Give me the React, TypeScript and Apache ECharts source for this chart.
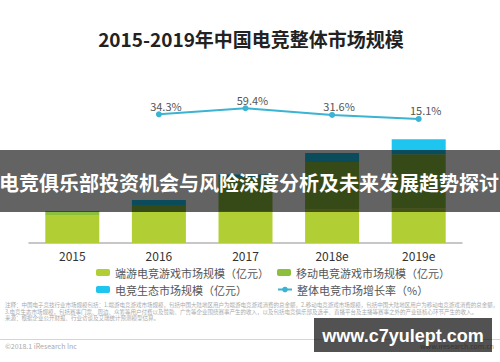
import React, { useEffect, useRef } from "react";
import * as echarts from "echarts";

const years = ["2015", "2016", "2017", "2018e", "2019e"];
const pcValues = [258, 295, 300, 320, 330];
const mobileValues = [38, 66, 325, 449, 512];
const ecoValues = [8, 47, 25, 86, 143];
const growthValues: (number | null)[] = [null, 34.3, 59.4, 31.6, 15.1];

const seriesNames = [
  "端游电竞游戏市场规模（亿元）",
  "移动电竞游戏市场规模（亿元）",
  "电竞生态市场规模（亿元）",
  "整体电竞市场增长率（%）",
];

const titleText = "2015-2019年中国电竞整体市场规模";
const bannerText = "电竞俱乐部投资机会与风险深度分析及未来发展趋势探讨";
const watermarkText = "www.c7yulept.com";
const noteText =
  "注释：中国电子竞技行业市场规模包括：1.端游电竞游戏市场规模，包括中国大陆地区用户为端游电竞游戏消费的总金额，2.移动电竞游戏市场规模，包括中国大陆地区用户为移动电竞游戏消费的总金额，3.电竞生态市场规模，包括赛事门票、周边、众筹等用户付费以及赞助、广告等企业围绕赛事产生的收入，以及包括电竞俱乐部及选手、直播平台及主播等赛事之外的产业链核心环节产生的收入。\n来源：根据企业公开财报、行业访谈及艾瑞统计预测模型估算。";
const copyrightText = "©2018.1 iResearch Inc";
const siteText = "www.iresearch.com.cn";

const FONT = "'Noto Sans CJK SC', 'Noto Sans', sans-serif";

export default function App() {
  const ref = useRef<HTMLDivElement>(null);
  useEffect(() => {
    if (!ref.current) return;
    const chart = echarts.init(ref.current, undefined, { renderer: "svg" });
    const legendBase = {
      itemWidth: 14,
      itemHeight: 7,
      padding: 0,
      itemGap: 0,
      textStyle: { fontSize: 11, color: "#555", fontFamily: FONT },
    };
    chart.setOption({
      animation: false,
      backgroundColor: "#ffffff",
      textStyle: { fontFamily: FONT },
      grid: { left: 29, right: 38, top: 74.4, bottom: 119 },
      legend: [
        { ...legendBase, data: [seriesNames[0]], left: 96, top: 267 },
        { ...legendBase, data: [seriesNames[1]], left: 277, top: 267 },
        { ...legendBase, data: [seriesNames[2]], left: 96, top: 284 },
        { ...legendBase, data: [seriesNames[3]], left: 277, top: 284 },
      ],
      xAxis: {
        type: "category",
        data: years,
        axisLine: { lineStyle: { color: "#b5b5b5", width: 1.5 } },
        axisTick: { show: false },
        axisLabel: { fontSize: 12, color: "#333", margin: 6, fontFamily: FONT },
      },
      yAxis: [
        { type: "value", min: 0, max: 1600, show: false, splitLine: { show: false } },
        { type: "value", min: -500, max: 200, show: false, splitLine: { show: false } },
      ],
      series: [
        {
          name: seriesNames[0],
          type: "bar",
          stack: "total",
          barWidth: 54,
          data: pcValues,
          itemStyle: { color: "#b1cf34" },
        },
        {
          name: seriesNames[1],
          type: "bar",
          stack: "total",
          barWidth: 54,
          data: mobileValues,
          itemStyle: { color: "#8cbf3c" },
        },
        {
          name: seriesNames[2],
          type: "bar",
          stack: "total",
          barWidth: 54,
          data: ecoValues,
          itemStyle: { color: "#1ec5ee" },
        },
        {
          name: seriesNames[3],
          type: "line",
          yAxisIndex: 1,
          data: growthValues,
          symbol: "circle",
          symbolSize: 6,
          itemStyle: { color: "#3ab4d2" },
          lineStyle: { color: "#3ab4d2", width: 2 },
          label: {
            show: true,
            position: "top",
            distance: 0,
            offset: [7, 0],
            formatter: "{c}%",
            fontSize: 11,
            color: "#555",
            fontFamily: FONT,
          },
        },
      ],
      graphic: [
        {
          type: "text",
          x: 251,
          y: 38,
          z: 10,
          style: {
            text: titleText,
            fontSize: 19,
            fontWeight: "bold",
            fill: "#222",
            fontFamily: FONT,
            align: "center",
            verticalAlign: "middle",
          },
        },
        {
          type: "text",
          x: 5,
          y: 302,
          z: 10,
          style: {
            text: noteText,
            width: 494,
            overflow: "break",
            fontSize: 5.5,
            lineHeight: 6.5,
            fill: "#aaa",
            fontFamily: FONT,
          },
        },
        {
          type: "line",
          z: 10,
          shape: { x1: 0, y1: 339.5, x2: 500, y2: 339.5 },
          style: { stroke: "#d5d5d5", lineWidth: 1 },
        },
        {
          type: "text",
          x: 5,
          y: 346,
          z: 10,
          style: {
            text: copyrightText,
            fontSize: 7,
            fill: "#aaa",
            fontFamily: FONT,
            verticalAlign: "middle",
          },
        },
        {
          type: "text",
          x: 494,
          y: 346,
          z: 10,
          style: {
            text: siteText,
            fontSize: 7,
            fill: "#aaa",
            fontFamily: FONT,
            align: "right",
            verticalAlign: "middle",
          },
        },
        {
          type: "rect",
          z: 100,
          shape: { x: 0, y: 150, width: 500, height: 62 },
          style: { fill: "rgba(0,0,0,0.61)" },
        },
        {
          type: "text",
          x: 249,
          y: 182,
          z: 101,
          style: {
            text: bannerText,
            fontSize: 20,
            fontWeight: "bold",
            fill: "#ffffff",
            fontFamily: FONT,
            align: "center",
            verticalAlign: "middle",
          },
        },
        {
          type: "rect",
          z: 100,
          shape: { x: 314, y: 318, width: 178, height: 34 },
          style: { fill: "rgba(0,0,0,0.68)" },
        },
        {
          type: "text",
          x: 403,
          y: 336,
          z: 101,
          style: {
            text: watermarkText,
            fontSize: 18,
            fontWeight: "bold",
            fill: "#ffffff",
            fontFamily: "'Liberation Sans', Arial, sans-serif",
            align: "center",
            verticalAlign: "middle",
          },
        },
      ],
    });
    return () => chart.dispose();
  }, []);
  return (
    <div
      ref={ref}
      style={{ position: "fixed", left: 0, top: 0, width: 500, height: 362 }}
    />
  );
}
